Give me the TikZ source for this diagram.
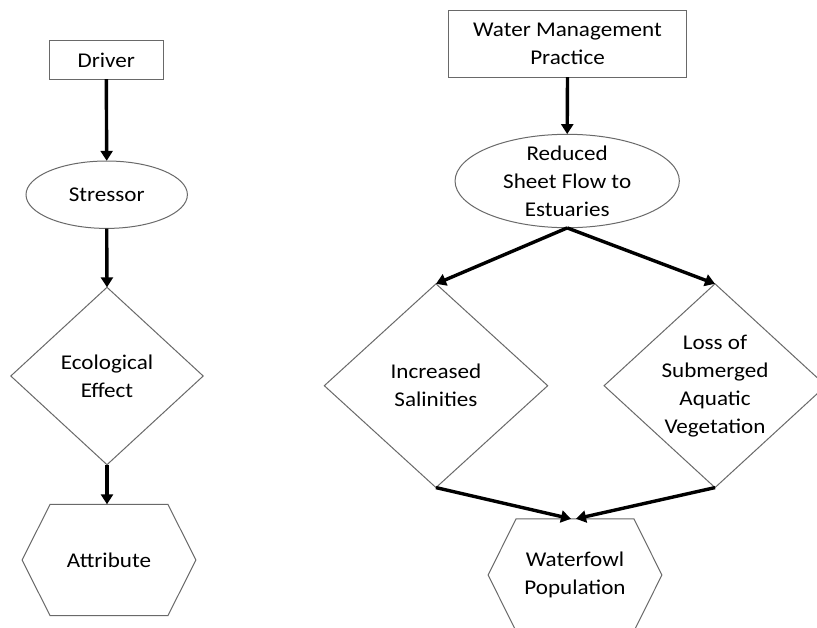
\documentclass[tikz,border=0pt]{standalone}
\usepackage{fontspec}
\setmainfont{Carlito}[FakeStretch=1.1]
\usetikzlibrary{arrows.meta,calc}
\definecolor{shapegray}{RGB}{105,105,105}
\tikzset{
  shapebox/.style={draw=none, inner sep=0pt, align=center, text=black,
    font=\fontsize{21}{28}\selectfont},
  outline/.style={draw=shapegray, line width=1pt},
  flow/.style={draw=black, line width=3.4pt, -{Triangle[width=12pt,length=10pt]}},
}
\begin{document}
\begin{tikzpicture}[x=1pt,y=-1pt]
\useasboundingbox (0,0) rectangle (817,627);
\fill[white] (0,0) rectangle (817,627);

% ---------- left chain ----------
\node[shapebox, minimum width=114pt, minimum height=38pt] (driver) at (106.3,60) {Driver};
\draw[outline] (driver.south west) rectangle (driver.north east);

\node[shapebox, minimum width=161.4pt, minimum height=67.4pt] (stress) at (106.7,194.7) {Stressor};
\draw[outline] (stress.center) ellipse [x radius=80.7pt, y radius=33.7pt];

\node[shapebox, minimum width=192pt, minimum height=177pt] (eco) at (107,376) {Ecological\\Effect};
\draw[outline] (eco.north) -- (eco.east) -- (eco.south) -- (eco.west) -- cycle;

\node[shapebox, minimum width=173.4pt, minimum height=111pt] (attr) at (109,560) {Attribute};
\draw[outline] ($(attr.north west)+(28pt,0)$) -- ($(attr.north east)+(-28pt,0)$) -- (attr.east)
  -- ($(attr.south east)+(-28pt,0)$) -- ($(attr.south west)+(28pt,0)$) -- (attr.west) -- cycle;

\draw[flow] (driver.south) -- (stress.north);
\draw[flow] (stress.south) -- (eco.north);
\draw[flow] (eco.south) -- (eco.south |- attr.north);

% ---------- right chain ----------
\node[shapebox, minimum width=237pt, minimum height=66pt] (wmp) at (567.5,44) {Water Management\\Practice};
\draw[outline] (wmp.south west) rectangle (wmp.north east);

\node[shapebox, minimum width=224.3pt, minimum height=93.4pt] (red) at (567.2,181) {Reduced\\Sheet Flow to\\Estuaries};
\draw[outline] (red.center) ellipse [x radius=112.15pt, y radius=46.7pt];

\node[shapebox, minimum width=223pt, minimum height=203.4pt] (sal) at (436,385.7) {Increased\\Salinities};
\draw[outline] (sal.north) -- (sal.east) -- (sal.south) -- (sal.west) -- cycle;

\node[shapebox, minimum width=221.4pt, minimum height=203.4pt] (sav) at (715,385.7) {Loss of\\Submerged\\Aquatic\\Vegetation};
\draw[outline] (sav.north) -- (sav.east) -- (sav.south) -- (sav.west) -- cycle;

\node[shapebox, minimum width=173.4pt, minimum height=112pt] (wf) at (575,575) {Waterfowl\\Population};
\draw[outline] ($(wf.north west)+(28pt,0)$) -- ($(wf.north east)+(-28pt,0)$) -- (wf.east)
  -- ($(wf.south east)+(-28pt,0)$) -- ($(wf.south west)+(28pt,0)$) -- (wf.west) -- cycle;

\coordinate (wfl) at ($(wf.north)+(-4pt,0)$);
\coordinate (wfr) at ($(wf.north)+(1pt,0)$);

\draw[flow] (wmp.south) -- (red.north);
\draw[flow] (red.south) -- (sal.north);
\draw[flow] (red.south) -- (sav.north);
\draw[flow] (sal.south) -- (wfl);
\draw[flow] (sav.south) -- (wfr);
\end{tikzpicture}
\end{document}
